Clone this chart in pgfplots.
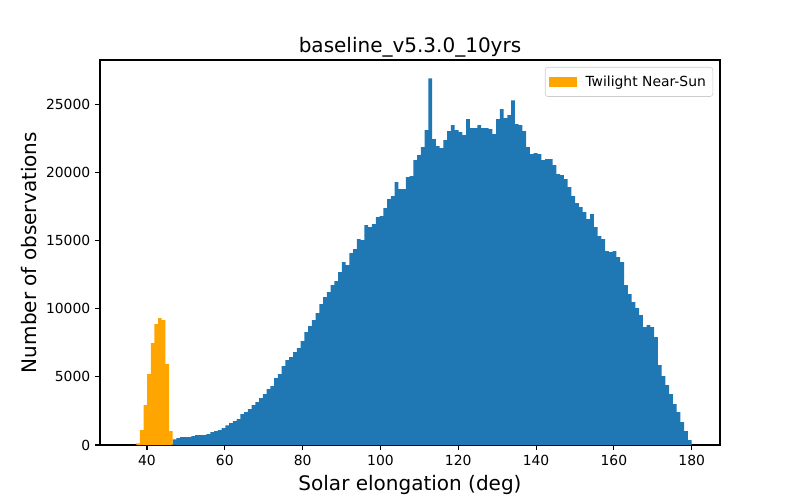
\documentclass[border=0pt]{standalone}
\usepackage{pgfplots}
\pgfplotsset{compat=1.18}
\usepackage{fontspec}
\setmainfont{DejaVu Sans}
\definecolor{mplblue}{HTML}{1F77B4}
\definecolor{mplorange}{HTML}{FFA500}
\pgfplotstableread{
x y
46.600 418
47.567 513
48.533 586
49.500 586
50.467 586
51.433 660
52.400 733
53.367 733
54.333 733
55.300 806
56.267 953
57.233 1026
58.200 1100
59.167 1246
60.133 1444
61.100 1613
62.067 1760
63.033 1906
64.000 2273
64.967 2419
65.933 2639
66.900 2933
67.867 3153
68.833 3446
69.800 3739
70.767 4105
71.733 4325
72.700 4912
73.667 5205
74.633 5792
75.600 6232
76.567 6452
77.533 6818
78.500 7111
79.467 7624
80.433 8284
81.400 8724
82.367 9164
83.333 9677
84.300 10337
85.267 10850
86.233 11216
87.200 11730
88.167 12023
89.133 12683
90.100 13416
91.067 13196
92.033 14076
93.000 14369
93.967 15102
94.933 15029
95.900 16128
96.867 15982
97.833 16202
98.800 16715
99.767 16788
100.733 17374
101.700 18034
102.667 18254
103.633 19281
104.600 18767
105.567 18767
106.533 19647
107.500 19720
108.467 20893
109.433 21260
110.400 21846
111.367 23093
112.333 26905
113.300 22433
114.267 21920
115.233 21773
116.200 22360
117.167 23019
118.133 23459
119.100 23093
120.067 22946
121.033 22726
122.000 23899
122.967 23239
123.933 23239
124.900 23459
125.867 23239
126.833 23239
127.800 23166
128.767 22799
129.733 23899
130.700 24632
131.667 23972
132.633 24192
133.600 25292
134.567 23532
135.533 23459
136.500 23019
137.467 21846
138.433 21333
139.400 21406
140.367 21333
141.333 20893
142.300 20967
143.267 20967
144.233 20527
145.200 19867
146.167 19794
147.133 19500
148.100 18914
149.067 18254
150.033 17741
151.000 17448
151.967 17081
152.933 16568
153.900 16935
154.867 15982
155.833 15322
156.800 15102
157.767 14222
158.733 14149
159.700 14222
160.667 13782
161.633 13416
162.600 11730
163.567 11070
164.533 10483
165.500 10043
166.467 9530
167.433 8651
168.400 8797
169.367 8651
170.333 7917
171.300 5865
172.267 5058
173.233 4399
174.200 3739
175.167 3006
176.133 2419
177.100 1686
178.067 1026
179.033 367
180.000 0
}\bluedata
\pgfplotstableread{
x y
37.260 125
38.194 1100
39.128 2932
40.062 5205
40.996 7478
41.930 8871
42.864 9310
43.798 9164
44.732 5938
45.666 1026
46.600 0
}\orangedata
\begin{document}
\begin{tikzpicture}
\begin{axis}[
  at={(0,0)}, anchor=south west,
  scale only axis, width=446.4pt, height=277.2pt,
  xmin=27.93, xmax=187.27, ymin=0, ymax=28245,
  xtick={40,60,...,180}, ytick={0,5000,...,25000},
  minor tick num=0,
  scaled y ticks=false,
  /pgf/number format/assume math mode=true,
  /pgf/number format/fixed,
  /pgf/number format/precision=0,
  /pgf/number format/1000 sep={},
  tick align=outside, major tick length=3.5pt,
  tick style={black, line width=0.8pt},
  axis line style={black, line width=0.8pt},
  xtick pos=bottom, ytick pos=left,
  ticklabel style={font=\fontsize{10}{12}\selectfont},
  title={baseline\_v5.3.0\_10yrs},
  title style={font=\fontsize{14.4}{17}\selectfont, yshift=-7.5pt},
  xlabel={Solar elongation (deg)},
  ylabel={Number of observations},
  label style={font=\fontsize{14.4}{17}\selectfont},
  legend style={at={(1,1)}, xshift=-5pt, yshift=-5pt, anchor=north east, draw=black!20, rounded corners=2pt,
    font=\fontsize{10}{12}\selectfont, inner xsep=3pt, inner ysep=4pt},
  legend cell align=left,
]
\addplot[const plot, fill=mplblue, draw=none, forget plot] table[x=x, y=y] {\bluedata} \closedcycle;
\addplot[const plot, fill=mplorange, draw=none,
  legend image code/.code={\fill[mplorange, sharp corners] (0pt,-3.5pt) rectangle (20pt,3.5pt);
    \path (0pt,0pt) -- (24pt,0pt);}]
  table[x=x, y=y] {\orangedata} \closedcycle;
\addlegendentry{Twilight Near-Sun}
\end{axis}
\pgfresetboundingbox
\path[use as bounding box] (-72pt,-39.6pt) rectangle (504pt,320.4pt);
\end{tikzpicture}
\end{document}
